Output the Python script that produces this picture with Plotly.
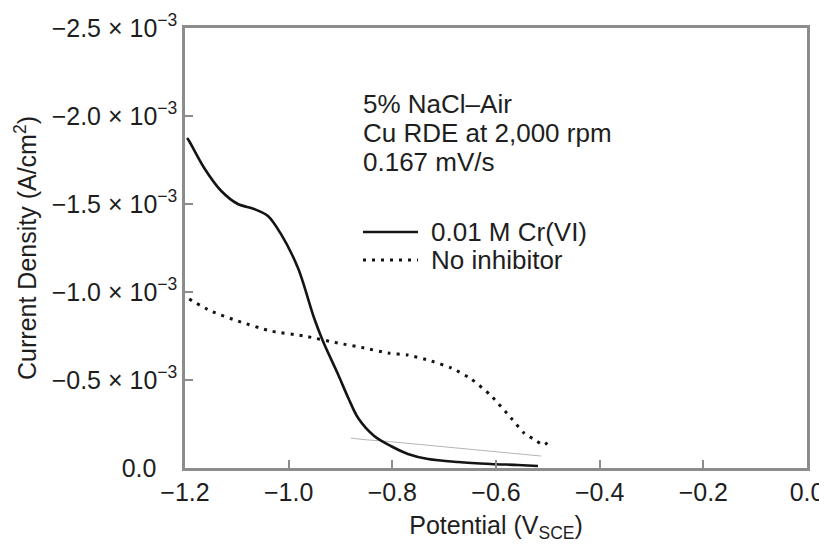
import plotly.graph_objects as go

# Solid curve: 0.01 M Cr(VI)
cr_potential = [-1.196, -1.192, -1.163, -1.130, -1.098, -1.067, -1.040, -1.015, -0.982,
                -0.951, -0.934, -0.905, -0.885, -0.866, -0.835, -0.803, -0.770,
                -0.731, -0.673, -0.610, -0.558, -0.519]
cr_current = [-1.875e-3, -1.858e-3, -1.705e-3, -1.574e-3, -1.500e-3, -1.472e-3, -1.432e-3,
              -1.330e-3, -1.136e-3, -0.852e-3, -0.722e-3, -0.534e-3, -0.398e-3,
              -0.284e-3, -0.182e-3, -0.125e-3, -0.080e-3, -0.051e-3, -0.034e-3, -0.023e-3,
              -0.017e-3, -0.011e-3]

# Dotted curve: No inhibitor
ni_potential = [-1.192, -1.150, -1.098, -1.034, -0.970, -0.905, -0.854, -0.808, -0.770,
                -0.725, -0.686, -0.648, -0.609, -0.571, -0.546, -0.528, -0.507, -0.495]
ni_current = [-0.960e-3, -0.892e-3, -0.835e-3, -0.778e-3, -0.750e-3, -0.710e-3, -0.682e-3,
              -0.653e-3, -0.642e-3, -0.608e-3, -0.568e-3, -0.506e-3, -0.409e-3, -0.284e-3,
              -0.199e-3, -0.165e-3, -0.131e-3, -0.165e-3]

# Faint thin trace near the baseline
faint_potential = [-0.880, -0.850, -0.816, -0.513]
faint_current = [-0.170e-3, -0.160e-3, -0.153e-3, -0.068e-3]

x_ticks = [-1.2, -1.0, -0.8, -0.6, -0.4, -0.2, 0.0]
y_ticks = [0.0, -0.5e-3, -1.0e-3, -1.5e-3, -2.0e-3, -2.5e-3]
y_ticktext = ["0.0\u00a0\u00a0\u00a0", "−0.5 × 10<sup>−3</sup>", "−1.0 × 10<sup>−3</sup>",
              "−1.5 × 10<sup>−3</sup>", "−2.0 × 10<sup>−3</sup>", "−2.5 × 10<sup>−3</sup>"]

condition_lines = ["5% NaCl–Air", "Cu RDE at 2,000 rpm", "0.167 mV/s"]
series_names = ["0.01 M Cr(VI)", "No inhibitor"]

FONT = "Liberation Sans, Arial, Helvetica, sans-serif"
AXIS_GRAY = "#8c8c8c"
TEXT = "#1e1e1e"
INK = "#141414"

fig = go.Figure()
fig.add_trace(go.Scatter(x=faint_potential, y=faint_current, mode="lines",
                         line=dict(color="#b4b4b4", width=1), showlegend=False,
                         hoverinfo="skip"))
fig.add_trace(go.Scatter(x=cr_potential, y=cr_current, mode="lines", name=series_names[0],
                         line=dict(color=INK, width=2.6, shape="spline", smoothing=0.9),
                         showlegend=False))
fig.add_trace(go.Scatter(x=ni_potential, y=ni_current, mode="lines", name=series_names[1],
                         line=dict(color=INK, width=3, dash="3px,6px", shape="spline",
                                   smoothing=0.6),
                         showlegend=False))

# Plot area in page pixels: x 185..807, y 28..468 (page has an 8px body offset)
def px(xp):
    return (xp - 185) / 622.0

def py(yp):
    return (468 - yp) / 440.0

annotations = []
for text, yc in zip(condition_lines, [104, 133, 162]):
    annotations.append(dict(xref="paper", yref="paper", x=px(361), y=py(yc), xanchor="left",
                            yanchor="middle", align="left", showarrow=False, text=text,
                            font=dict(size=26, color=TEXT)))

shapes = []
legend_rows = [232, 260]
legend_dash = ["solid", "3px,6px"]
legend_width = [2.6, 3]
for name, yc, dash, w in zip(series_names, legend_rows, legend_dash, legend_width):
    shapes.append(dict(type="line", xref="paper", yref="paper", x0=px(363), x1=px(418),
                       y0=py(yc), y1=py(yc), line=dict(color=INK, width=w, dash=dash)))
    annotations.append(dict(xref="paper", yref="paper", x=px(429), y=py(yc), xanchor="left",
                            yanchor="middle", align="left", showarrow=False, text=name,
                            font=dict(size=26, color=TEXT)))

fig.update_layout(
    width=827, height=548,
    margin=dict(l=177, r=28, t=20, b=88),
    paper_bgcolor="white", plot_bgcolor="white",
    font=dict(family=FONT, size=25, color=TEXT),
    showlegend=False,
    xaxis=dict(range=[-1.2, 0.0], tickvals=x_ticks, tickformat=".1f", automargin=False,
               ticks="inside", ticklen=8, tickwidth=2, tickcolor=AXIS_GRAY,
               showline=True, linecolor=AXIS_GRAY, linewidth=2.5, mirror=True,
               showgrid=False, zeroline=False,
               tickfont=dict(size=25, color=TEXT),
               title=dict(text="Potential (V<sub>SCE</sub>)", font=dict(size=25, color=TEXT),
                          standoff=12)),
    yaxis=dict(range=[0.0, -2.5e-3], tickvals=y_ticks, ticktext=y_ticktext, automargin=False,
               ticks="inside", ticklen=8, tickwidth=2, tickcolor=AXIS_GRAY,
               showline=True, linecolor=AXIS_GRAY, linewidth=2.5, mirror=True,
               showgrid=False, zeroline=False,
               tickfont=dict(size=25, color=TEXT),
               title=dict(text="Current Density (A/cm<sup>2</sup>)",
                          font=dict(size=25, color=TEXT), standoff=8)),
    annotations=annotations,
    shapes=shapes,
)

fig.write_html("out.html")
